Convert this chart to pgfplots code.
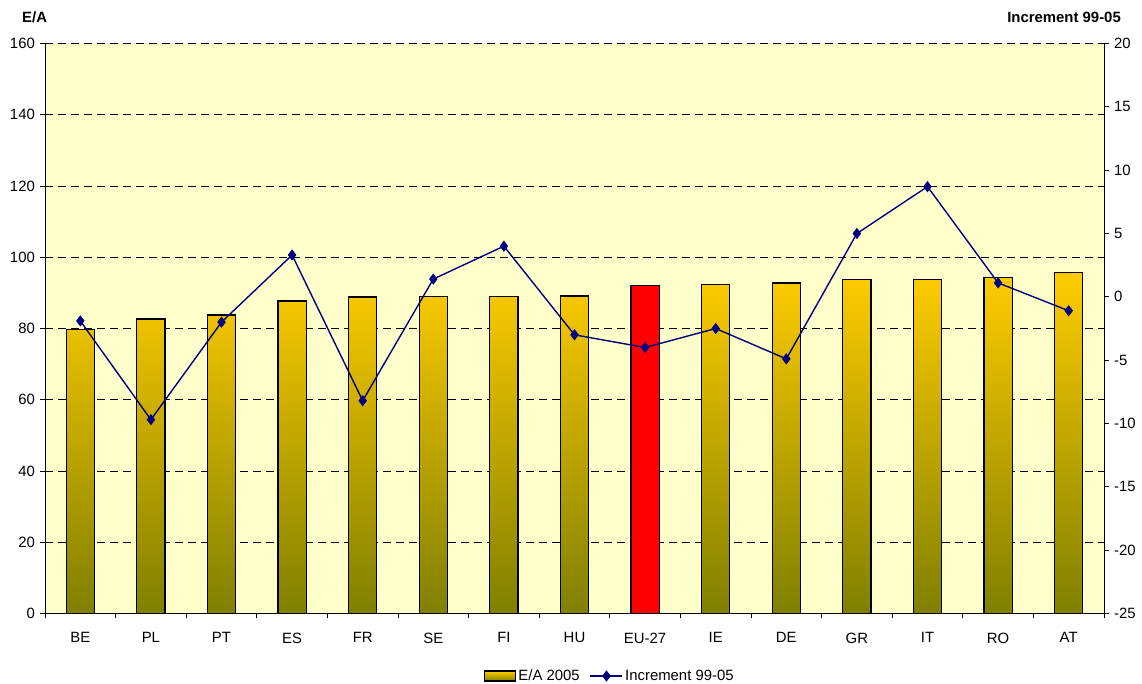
\documentclass[border=0pt]{standalone}
\usepackage{pgfplots}
\pgfplotsset{compat=1.18}
\usepackage{fontspec}
\setmainfont{Liberation Sans}

\definecolor{bgyellow}{HTML}{FFFFCC}
\definecolor{bartop}{HTML}{FFCC00}
\definecolor{barbottom}{HTML}{808000}
\definecolor{incnavy}{HTML}{000080}

\newcommand{\chartfont}{\fontsize{14.9}{17}\selectfont}

\pgfplotsset{
  barlegend/.style={legend image code/.code={
    \draw[draw=black, line width=1.2pt, top color=bartop, bottom color=barbottom]
      (0pt,-5pt) rectangle (31pt,5pt);}},
  linelegend/.style={legend image code/.code={
    \draw[mark repeat=2, mark phase=2, ##1]
      plot coordinates {(0pt,0pt) (16pt,0pt) (32pt,0pt)};}},
}

\begin{document}
\chartfont
\begin{tikzpicture}[x=1pt,y=1pt]
\useasboundingbox (-45,-70.5) rectangle (1097,613.5);

\pgfplotsset{
  every axis/.append style={
    width=1059pt, height=570pt, scale only axis,
    at={(0,0)}, anchor=south west,
    xmin=-0.5, xmax=14.5,
    font=\chartfont,
    /pgf/number format/assume math mode=true,
    tick align=outside, major tick length=5pt,
    tick style={black, line width=0.8pt},
    axis line style={black, line width=0.8pt},
  },
}

% E/A 2005 (left axis)
\begin{axis}[
  axis background/.style={fill=bgyellow},
  axis x line*=bottom, axis y line*=left,
  ymin=0, ymax=160, ytick={0,20,...,160},
  ymajorgrids,
  grid style={black, dash pattern=on 8pt off 5pt, line width=0.8pt},
  xtick={-0.5,0.5,...,14.5},
  x tick label as interval,
  xticklabels={BE,PL,PT,ES,FR,SE,FI,HU,EU-27,IE,DE,GR,IT,RO,AT},
  xticklabel style={yshift=-9pt},
  legend style={at={(0.5335,-0.1096)}, anchor=center, draw=none, fill=none,
    font=\chartfont, legend columns=2,
    /tikz/every even column/.append style={column sep=8pt}},
]
\addplot[ybar, bar width=0.4, bar shift=0pt, draw=black, line width=1.3pt,
  top color=bartop, bottom color=barbottom, forget plot] coordinates {
  (0,79.8) (1,82.7) (2,83.8) (3,87.7) (4,88.8) (5,88.9) (6,89.0) (7,89.1)
  (9,92.3) (10,92.8) (11,93.7) (12,93.75) (13,94.3) (14,95.7)
};
\addplot[ybar, bar width=0.4, bar shift=0pt, draw=black, line width=1.3pt,
  fill=red, forget plot] coordinates {(8,92.0)};

\addlegendimage{barlegend}
\addlegendentry{E/A 2005}
\addlegendimage{incnavy, line width=1.4pt, mark=diamond*, mark size=4.5pt, linelegend}
\addlegendentry{Increment 99-05}
\end{axis}

% Increment 99-05 (right axis)
\begin{axis}[
  axis x line=none, axis y line*=right,
  ymin=-25, ymax=20, ytick={-25,-20,...,20},
]
\addplot[incnavy, line width=1.4pt, mark=diamond*, mark size=4.5pt] coordinates {
  (0,-1.9) (1,-9.7) (2,-2.0) (3,3.3) (4,-8.2) (5,1.4) (6,4.0) (7,-3.0)
  (8,-4.0) (9,-2.5) (10,-4.9) (11,5.0) (12,8.7) (13,1.1) (14,-1.1)
};
\end{axis}

\node[anchor=west, inner sep=0pt, font=\chartfont\bfseries] at (-23,596.5) {E/A};
\node[anchor=east, inner sep=0pt, font=\chartfont\bfseries] at (1076,596.5) {Increment 99-05};
\end{tikzpicture}
\end{document}
